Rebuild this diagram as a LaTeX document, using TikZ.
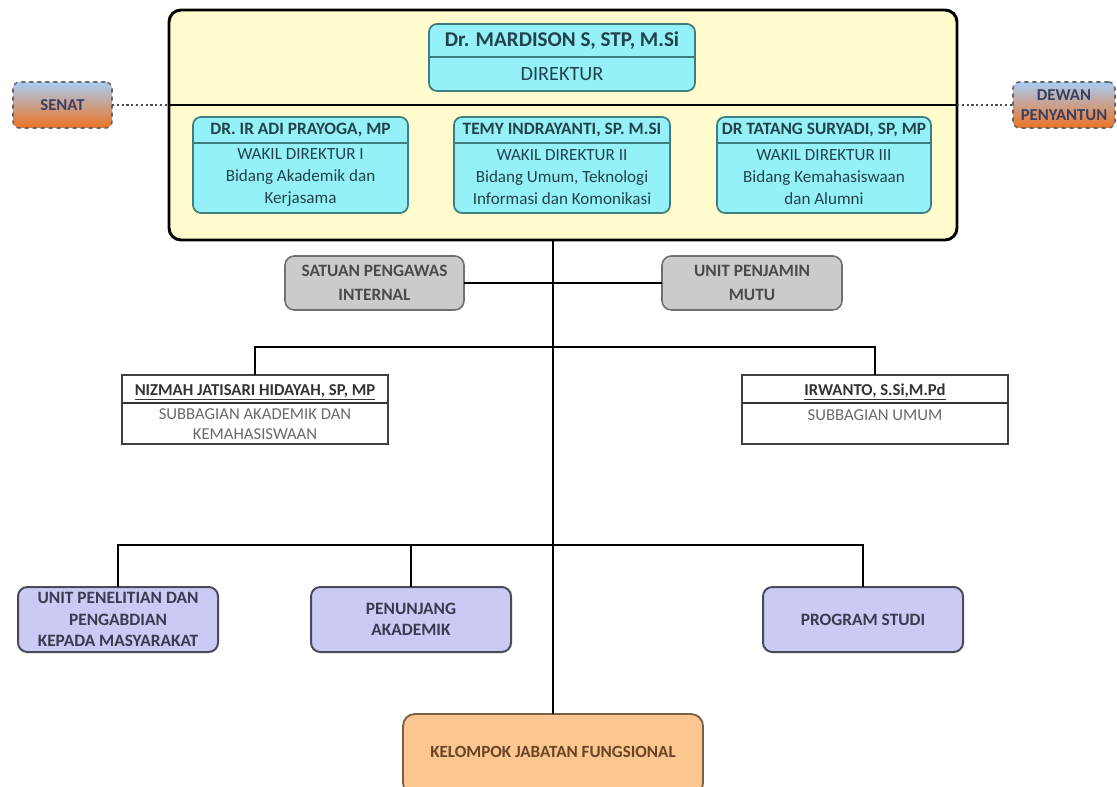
\documentclass[tikz,border=0pt]{standalone}
\usepackage{fontspec}
\setmainfont{Carlito}
\usetikzlibrary{fit}
\definecolor{bigyellow}{HTML}{FFFBCC}
\definecolor{cyanfill}{HTML}{93F1F7}
\definecolor{cyanline}{HTML}{3E7E80}
\definecolor{cyantext}{HTML}{24424D}
\definecolor{grayfill}{HTML}{CBCBCB}
\definecolor{grayline}{HTML}{707070}
\definecolor{graytext}{HTML}{4A4A4A}
\definecolor{purplefill}{HTML}{CACAF5}
\definecolor{purpleline}{HTML}{4A4A5A}
\definecolor{purpletext}{HTML}{3A3A50}
\definecolor{orangefill}{HTML}{FBC690}
\definecolor{orangeline}{HTML}{7A6045}
\definecolor{orangetext}{HTML}{6A4525}
\definecolor{senattop}{HTML}{A8CCF2}
\definecolor{senatmid}{HTML}{E0C8C0}
\definecolor{senatbot}{HTML}{EE7324}
\definecolor{senattext}{HTML}{3A4060}
\definecolor{subhead}{HTML}{333333}
\definecolor{subtext}{HTML}{6A6A6A}
\begin{document}
\begin{tikzpicture}[x=0.75pt,y=-0.75pt,
  box/.style={inner sep=0pt, outer sep=0pt},
  bigbox/.style={box, draw=black, line width=2.2pt, fill=bigyellow, rounded corners=9pt},
  cyanbox/.style={box, draw=cyanline, line width=1.3pt, fill=cyanfill, rounded corners=6pt},
  divider/.style={line width=1pt},
  graybox/.style={box, draw=grayline, line width=1.2pt, fill=grayfill, rounded corners=7pt},
  purplebox/.style={box, draw=purpleline, line width=1.5pt, fill=purplefill, rounded corners=7pt},
  orangebox/.style={box, draw=orangeline, line width=1.4pt, fill=orangefill, rounded corners=9pt},
  whitebox/.style={box, draw=black!75, line width=1pt, fill=white},
  senatbox/.style={box, draw=black!60, dashed, line width=1.2pt, rounded corners=5pt,
     top color=senattop, middle color=senatmid, bottom color=senatbot},
  conn/.style={line width=2pt, black},
  dotconn/.style={line width=1.6pt, black!70, dotted},
  headtxt/.style={font=\bfseries\fontsize{13}{15}\selectfont, text=cyantext, inner sep=0pt},
  bodytxt/.style={font=\fontsize{12.8}{16.5}\selectfont, text=cyantext, align=center, inner sep=0pt},
  graytxt/.style={font=\bfseries\fontsize{13}{18}\selectfont, text=graytext, align=center, inner sep=0pt},
  purpletxt/.style={font=\bfseries\fontsize{13}{16}\selectfont, text=purpletext, align=center, inner sep=0pt},
  subheadtxt/.style={font=\bfseries\fontsize{12.5}{14}\selectfont, text=subhead, inner sep=0pt},
  subtxt/.style={font=\fontsize{12.5}{14.5}\selectfont, text=subtext, align=center, inner sep=0pt},
]
\useasboundingbox (0,0) rectangle (1117,787);
\fill[white] (0,0) rectangle (1117,787);

% big box
\node[bigbox, fit={(169,10)(957,240)}] (big) {};
\draw[line width=1.8pt] (169,105) -- (957,105);

% director
\node[cyanbox, fit={(429,24)(695,91)}] (dir) {};
\draw[divider, cyanline] (dir.west |- 0,57) -- (dir.east |- 0,57);
\node[font=\bfseries\fontsize{15.8}{17}\selectfont, text=cyantext, inner sep=0pt] (dirname) at (562,41) {Dr. MARDISON S, STP, M.Si};
\node[font=\fontsize{15.2}{17}\selectfont, text=cyantext, inner sep=0pt] (dirtitle) at (562,74) {DIREKTUR};

% wakil 1
\node[cyanbox, fit={(193,117)(408,213)}] (w1) {};
\draw[divider, cyanline] (w1.west |- 0,143) -- (w1.east |- 0,143);
\node[headtxt] (w1h) at (300.5,130) {DR. IR ADI PRAYOGA, MP};
\node[bodytxt] (w1b) at (300.5,177) {WAKIL DIREKTUR I\\Bidang Akademik dan\\Kerjasama};
% wakil 2
\node[cyanbox, fit={(454,117)(670,213)}] (w2) {};
\draw[divider, cyanline] (w2.west |- 0,143) -- (w2.east |- 0,143);
\node[headtxt] (w2h) at (562,130) {TEMY INDRAYANTI, SP. M.SI};
\node[bodytxt] (w2b) at (562,177) {WAKIL DIREKTUR II\\Bidang Umum, Teknologi\\Informasi dan Komonikasi};
% wakil 3
\node[cyanbox, fit={(717,117)(931,213)}] (w3) {};
\draw[divider, cyanline] (w3.west |- 0,143) -- (w3.east |- 0,143);
\node[headtxt] (w3h) at (824,130) {DR TATANG SURYADI, SP, MP};
\node[bodytxt] (w3b) at (824,177) {WAKIL DIREKTUR III\\Bidang Kemahasiswaan\\dan Alumni};

% senat / dewan
\node[senatbox, fit={(13,82)(112,128)}] (senat) {};
\node[font=\bfseries\fontsize{12.5}{14}\selectfont, text=senattext, inner sep=0pt] (senatt) at (senat.center) {SENAT};
\node[senatbox, fit={(1013,82)(1115,128)}] (dewan) {};
\node[font=\bfseries\fontsize{12.5}{15.5}\selectfont, text=senattext, align=center, inner sep=0pt] (dewant) at (dewan.center) {DEWAN\\PENYANTUN};
\draw[dotconn] (senat.east) -- (big.west |- senat.east);
\draw[dotconn] (big.east |- dewan.west) -- (dewan.west);

% SPI / UPM
\node[graybox, fit={(285,256)(464,310)}] (spi) {};
\node[graytxt] (spit) at (spi.center) {SATUAN PENGAWAS\\INTERNAL};
\node[graybox, fit={(662,256)(842,310)}] (upm) {};
\node[graytxt] (upmt) at (upm.center) {UNIT PENJAMIN\\MUTU};

% subbagian
\node[whitebox, fit={(122,375)(388,444)}] (niz) {};
\draw[divider, black!80] (niz.west |- 0,403) -- (niz.east |- 0,403);
\node[subheadtxt] (nizh) at (255,392) {\underline{NIZMAH JATISARI HIDAYAH, SP, MP}};
\node[subtxt] (nizb) at (255,424) {SUBBAGIAN AKADEMIK DAN\\KEMAHASISWAAN};
\node[whitebox, fit={(742,375)(1008,444)}] (irw) {};
\draw[divider, black!80] (irw.west |- 0,403) -- (irw.east |- 0,403);
\node[subheadtxt] (irwh) at (875,392) {\underline{IRWANTO, S.Si,M.Pd}};
\node[subtxt] (irwb) at (875,415) {SUBBAGIAN UMUM};

% bottom row
\node[purplebox, fit={(18,587)(218,652)}] (uppm) {};
\node[purpletxt] (uppmt) at (uppm.center) {UNIT PENELITIAN DAN\\PENGABDIAN\\KEPADA MASYARAKAT};
\node[purplebox, fit={(311,587)(511,652)}] (pen) {};
\node[purpletxt] (pent) at (pen.center) {PENUNJANG\\AKADEMIK};
\node[purplebox, fit={(763,587)(963,652)}] (prodi) {};
\node[purpletxt] (prodit) at (prodi.center) {PROGRAM STUDI};

\node[orangebox, fit={(403,714)(703,795)}] (kel) {};
\node[font=\bfseries\fontsize{12.8}{14}\selectfont, text=orangetext, inner sep=0pt] (kelt) at (553,752) {KELOMPOK JABATAN FUNGSIONAL};

% connectors
\coordinate (midbar) at (553,347);
\coordinate (lowbar) at (553,545);
\draw[conn] (big.south -| kel.north) -- (kel.north);
\draw[conn] (spi.east) -- (upm.west);
\draw[conn] (niz.north) |- (midbar) -| (irw.north);
\draw[conn] (uppm.north) |- (lowbar) -| (prodi.north);
\draw[conn] (pen.north) -- (pen.north |- lowbar);
\end{tikzpicture}
\end{document}
